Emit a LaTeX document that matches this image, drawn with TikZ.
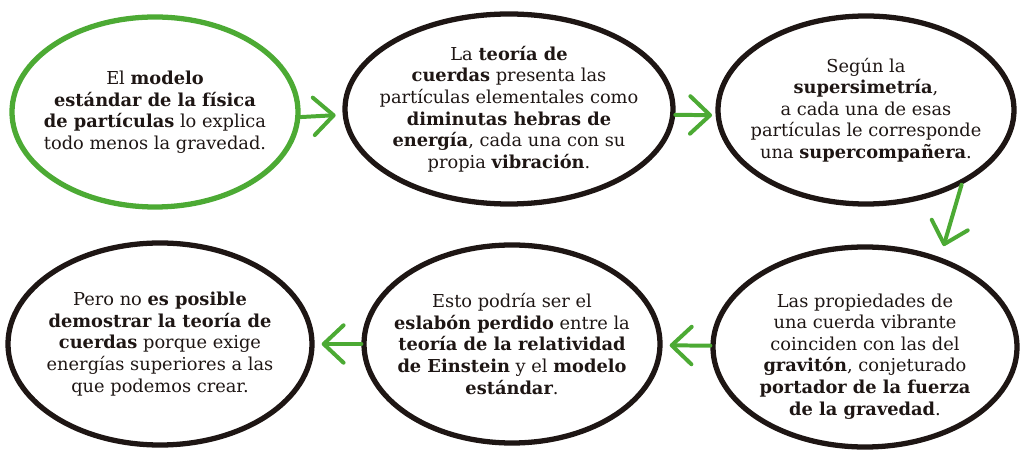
\documentclass[tikz,border=0pt]{standalone}
\usepackage{fontspec}
\setmainfont{DejaVu Serif}
\usetikzlibrary{shapes.geometric,arrows.meta}
\definecolor{hoja}{RGB}{76,170,52}
\definecolor{tinta}{RGB}{30,22,20}
\begin{document}
\begin{tikzpicture}[x=0.03cm,y=-0.03cm,
    globo/.style={ellipse,draw=tinta,line width=4.5pt,inner sep=0pt},
    texto/.style={align=center,text=tinta,font=\fontsize{15.2}{18.4}\selectfont},
    flecha/.style={draw=hoja,line width=3.4pt,line cap=round,
        -{Straight Barb[length=17pt,width=32pt,round]},shorten >=6pt}]
    \useasboundingbox (0,0) rectangle (1024,460);
    \node[globo,draw=hoja,minimum width=8.58cm,minimum height=5.7cm] (e1) at (155,112) {};
    \node[globo,minimum width=9.84cm,minimum height=5.7cm] (e2) at (509,109) {};
    \node[globo,minimum width=8.88cm,minimum height=5.64cm] (e3) at (866,110) {};
    \node[globo,minimum width=9.12cm,minimum height=6.06cm] (e4) at (160,344) {};
    \node[globo,minimum width=8.88cm,minimum height=5.94cm] (e5) at (512,344) {};
    \node[globo,minimum width=9.12cm,minimum height=6.0cm] (e6) at (865,347) {};
    \node[texto] (t1) at (e1) {El \textbf{modelo}\\ \textbf{estándar de la física}\\
        \textbf{de partículas} lo explica\\ todo menos la gravedad.};
    \node[texto] (t2) at (e2) {La \textbf{teoría de}\\ \textbf{cuerdas} presenta las\\
        partículas elementales como\\ \textbf{diminutas hebras de}\\
        \textbf{energía}, cada una con su\\ propia \textbf{vibración}.};
    \node[texto] (t3) at (e3) {Según la\\ \textbf{supersimetría},\\ a cada una de esas\\
        partículas le corresponde\\ una \textbf{supercompañera}.};
    \node[texto] (t4) at (e4) {Pero no \textbf{es posible}\\ \textbf{demostrar la teoría de}\\
        \textbf{cuerdas} porque exige\\ energías superiores a las\\ que podemos crear.};
    \node[texto] (t5) at (e5) {Esto podría ser el\\ \textbf{eslabón perdido} entre la\\
        \textbf{teoría de la relatividad}\\ \textbf{de Einstein} y el \textbf{modelo}\\
        \textbf{estándar}.};
    \node[texto,yshift=-8pt] (t6) at (e6) {Las propiedades de\\ una cuerda vibrante\\
        coinciden con las del\\ \textbf{gravitón}, conjeturado\\
        \textbf{portador de la fuerza}\\ \textbf{de la gravedad}.};
    \draw[flecha] (e1.-2) -- (e2.-178);
    \draw[flecha,shorten >=3pt] (e2.-2) -- (e3.-178);
    \draw[flecha,shorten >=10pt] (e3.-38) -- (e6.50);
    \draw[flecha] (e6) -- (e5);
    \draw[flecha] (e5) -- (e4);
\end{tikzpicture}
\end{document}
